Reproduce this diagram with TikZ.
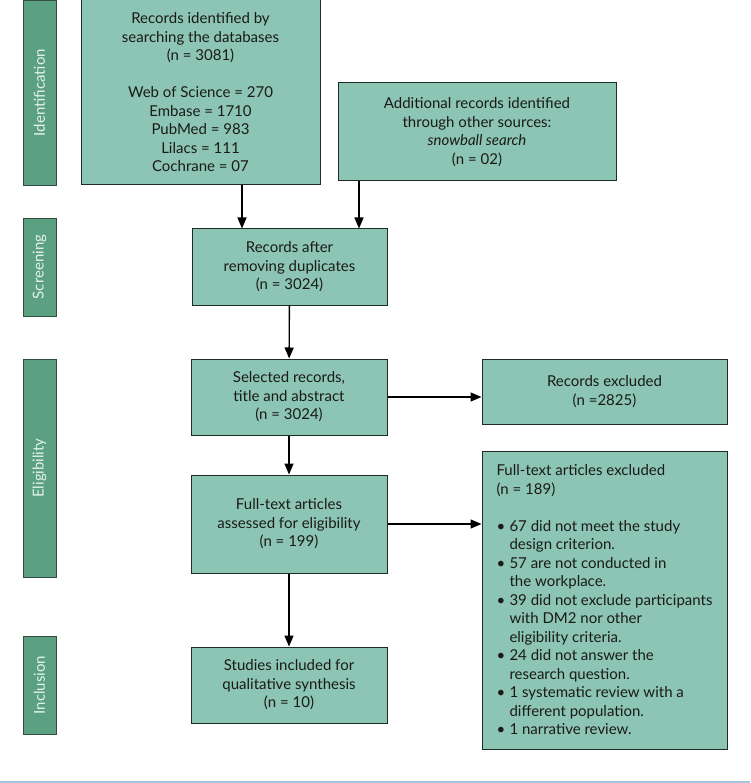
\documentclass[tikz,border=0pt]{standalone}
\usepackage{fontspec}
\setmainfont{Lato}
\usetikzlibrary{arrows.meta}
\definecolor{boxfill}{HTML}{8CC5B3}
\definecolor{barfill}{HTML}{5BA181}
\definecolor{bordc}{HTML}{1E2B27}
\definecolor{bartext}{HTML}{E4F2EC}
\definecolor{txt}{HTML}{1A1A1A}
\definecolor{rulecol}{HTML}{A9C3DE}
\newcommand{\bul}{\makebox[13pt][l]{•}}
\newcommand{\cont}{\hspace*{13pt}}
\begin{document}
\begin{tikzpicture}[x=1pt,y=-1pt,
  box/.style={draw=bordc, line width=1pt, fill=boxfill, inner sep=0pt, align=center,
    text=txt, font=\fontsize{15}{18.5}\selectfont},
  bar/.style={draw=bordc!70!barfill, line width=0.8pt, fill=barfill, inner sep=0pt,
    minimum height=33pt, text=bartext, font=\fontsize{15}{17}\selectfont},
  arr/.style={line width=1.4pt, draw=black, -{Triangle[width=9pt,length=11pt]}}]
\useasboundingbox (0,0) rectangle (750,783);
% side bars
\node[bar, minimum width=185pt, rotate=90] (b1) at (39.5,92.5) {Identification};
\node[bar, minimum width=98pt, rotate=90] (b2) at (39.5,267) {Screening};
\node[bar, minimum width=218pt, rotate=90] (b3) at (39.5,468) {Eligibility};
\node[bar, minimum width=98pt, rotate=90] (b4) at (39.5,685) {Inclusion};
% boxes
\node[box, minimum width=239pt, minimum height=185pt] (id1) at (200.5,92.5)
 {Records identified by\\searching the databases\\(n = 3081)\\[18.5pt]Web of Science = 270\\Embase = 1710\\PubMed = 983\\Lilacs = 111\\Cochrane = 07};
\node[box, minimum width=278pt, minimum height=98pt] (add) at (477,132)
 {Additional records identified\\through other sources:\\\textit{snowball search}\\(n = 02)};
\node[box, minimum width=195pt, minimum height=76pt] (dup) at (289.5,267)
 {Records after\\removing duplicates\\(n = 3024)};
\node[box, minimum width=196pt, minimum height=76pt] (sel) at (289,397)
 {Selected records,\\title and abstract\\(n = 3024)};
\node[box, minimum width=196pt, minimum height=98pt] (full) at (289,524)
 {Full-text articles\\assessed for eligibility\\(n = 199)};
\node[box, minimum width=196pt, minimum height=76pt] (incl) at (289,685)
 {Studies included for\\qualitative synthesis\\(n = 10)};
\node[box, minimum width=245pt, minimum height=65pt] (exc1) at (604.5,391.5)
 {Records excluded\\(n =2825)};
\node[box, minimum width=245pt, minimum height=298pt, align=left] (exc2) at (604.5,600)
 {Full-text articles excluded\\(n = 189)\\[18.5pt]
 \bul 67 did not meet the study\\
 \cont design criterion.\\
 \bul 57 are not conducted in\\
 \cont the workplace.\\
 \bul 39 did not exclude participants\\
 \cont with DM2 nor other\\
 \cont eligibility criteria.\\
 \bul 24 did not answer the\\
 \cont research question.\\
 \bul 1 systematic review with a\\
 \cont different population.\\
 \bul 1 narrative review.};
% arrows
\coordinate (c1) at (242,0);
\coordinate (c2) at (359,0);
\draw[arr] (id1.south -| c1) -- (dup.north -| c1);
\draw[arr] (add.south -| c2) -- (dup.north -| c2);
\draw[arr] (dup) -- (sel);
\draw[arr] (sel) -- (full);
\draw[arr] (full) -- (incl);
\draw[arr] (sel.east) -- (sel.east -| exc1.west);
\draw[arr] (full.east) -- (full.east -| exc2.west);
% bottom rule
\coordinate (r1) at (0,782);
\coordinate (r2) at (750,782);
\draw[draw=rulecol, line width=2pt] (r1) -- (r2);
\end{tikzpicture}
\end{document}
